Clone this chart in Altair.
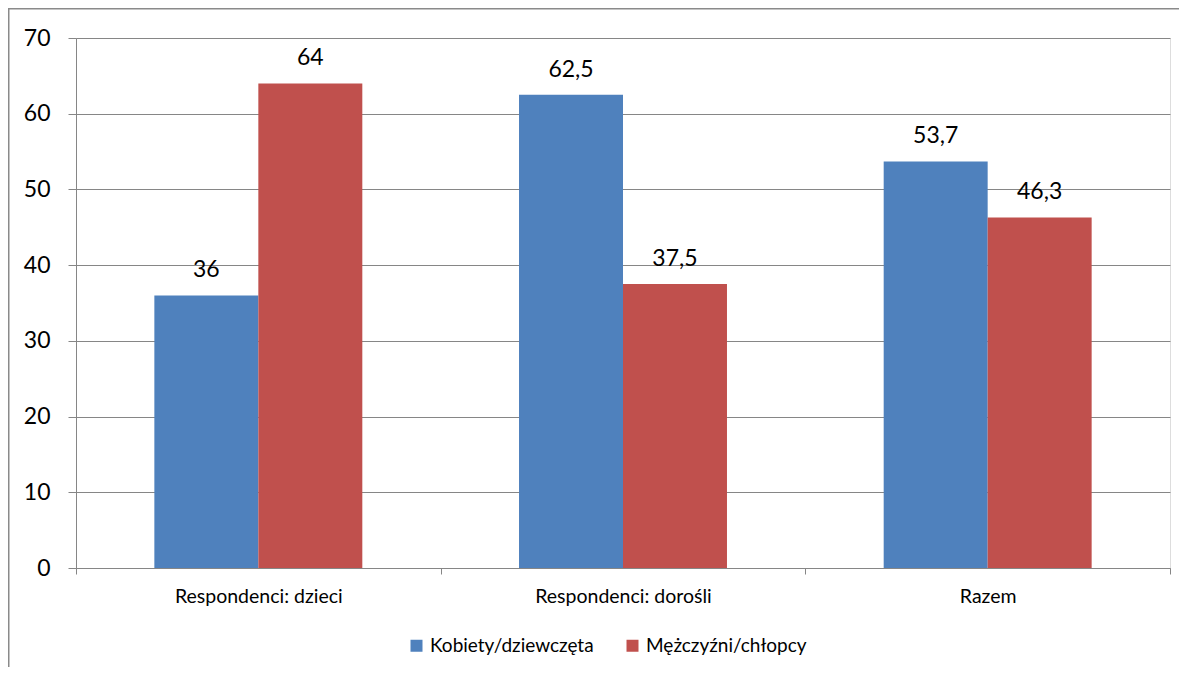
import altair as alt
import pandas as pd

categories = ["Respondenci: dzieci", "Respondenci: dorośli", "Razem"]
series = ["Kobiety/dziewczęta", "Mężczyźni/chłopcy"]
kobiety = [36, 62.5, 53.7]
mezczyzni = [64, 37.5, 46.3]
colors = ["#4F81BD", "#C0504D"]
y_ticks = [0, 10, 20, 30, 40, 50, 60, 70]

rows = []
for i, c in enumerate(categories):
    for s, vals in zip(series, [kobiety, mezczyzni]):
        v = vals[i]
        rows.append({"kat": c, "seria": s, "wartosc": v,
                     "etykieta": f"{v:g}".replace(".", ",")})
df = pd.DataFrame(rows)

W, H = 1094, 530
PL, PT, PR, PB = 68, 30, 9, 99
FONT = "Lato"
GRAY = "#868686"

x = alt.X("kat:N", sort=categories, title=None,
          scale=alt.Scale(paddingInner=0, paddingOuter=0),
          axis=alt.Axis(labelAngle=0, labelFontSize=19.5, labelColor="#000", labelFont=FONT,
                        tickBand="extent", tickSize=6, tickColor=GRAY, domainColor=GRAY,
                        labelPadding=13, grid=False, labelBaseline="top"))
xo = alt.XOffset("seria:N", sort=series,
                 scale=alt.Scale(paddingInner=0, paddingOuter=0.7535))
y = alt.Y("wartosc:Q", title=None, scale=alt.Scale(domain=[0, 70], nice=False),
          axis=alt.Axis(values=y_ticks, labelFontSize=23, labelColor="#000", labelFont=FONT,
                        tickSize=8, tickColor=GRAY, domainColor=GRAY, gridColor=GRAY,
                        gridWidth=1, labelPadding=18, grid=True))
color = alt.Color("seria:N", sort=series,
                  scale=alt.Scale(domain=series, range=colors),
                  legend=alt.Legend(title=None, orient="none", direction="horizontal",
                                    legendX=331, legendY=598, symbolType="square",
                                    symbolSize=144, symbolStrokeWidth=0, labelFontSize=19,
                                    labelFont=FONT, labelColor="#000", columnPadding=29,
                                    labelOffset=4, padding=0, labelLimit=0))

bars = alt.Chart(df).mark_bar(opacity=1).encode(x=x, xOffset=xo, y=y, color=color)
labels = alt.Chart(df).mark_text(fontSize=23, font=FONT, color="#000", baseline="alphabetic",
                                 dy=-18).encode(x=x, xOffset=xo, y=y, text="etykieta:N")

one = pd.DataFrame({"a": [0]})
frame_left = alt.Chart(one).mark_rule(color="#8a8a8a", strokeWidth=1.5).encode(
    x=alt.value(-PL + 0.75), y=alt.value(-PT), y2=alt.value(H + PB))
frame_top = alt.Chart(one).mark_rule(color="#8a8a8a", strokeWidth=1.5).encode(
    x=alt.value(-PL), x2=alt.value(W + PR), y=alt.value(-PT + 0.75))

chart = alt.layer(bars, labels, frame_left, frame_top).properties(
    width=W, height=H,
    autosize=alt.AutoSizeParams(type="none"),
    padding={"left": PL, "top": PT, "right": PR, "bottom": PB},
).configure_view(stroke=None).configure(background="white")

chart.save("out.html", embed_options={"renderer": "svg", "actions": False})
